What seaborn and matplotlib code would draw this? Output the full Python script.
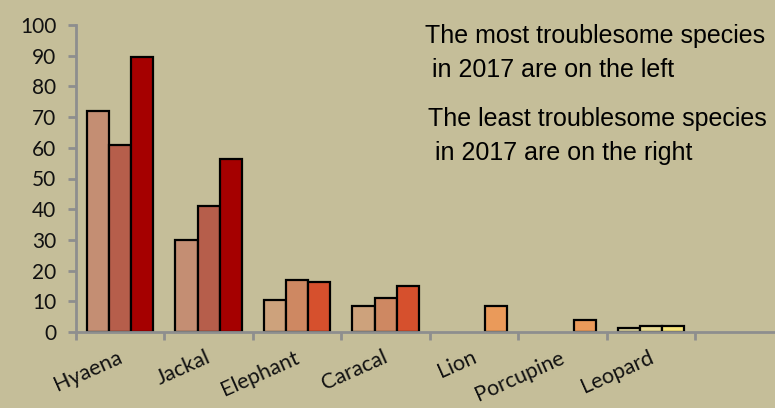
import numpy as np
import pandas as pd
import seaborn as sns
import matplotlib.pyplot as plt
import matplotlib.transforms as mtransforms

species = ['Hyaena', 'Jackal', 'Elephant', 'Caracal', 'Lion', 'Porcupine', 'Leopard']
years = ['2015', '2016', '2017']
count_2015 = [72, 30, 10.4, 8.5, 0, 0, 1.2]
count_2016 = [61, 41, 16.9, 11.2, 0, 0, 2]
count_2017 = [89.6, 56.4, 16.2, 15, 8.5, 3.8, 2]

# colours vary by species group (one row per species, one column per year)
bar_colors = [
    ['#C48E73', '#B65E4B', '#A50000'],
    ['#C48E73', '#B65E4B', '#A50000'],
    ['#CDA27C', '#CE8862', '#D6502D'],
    ['#CDA27C', '#CE8862', '#D6502D'],
    ['#E3B07A', '#E6A06A', '#EA9A5A'],
    ['#E3B07A', '#E6A06A', '#EA9A5A'],
    ['#D9D09C', '#E8DA94', '#F8E57C'],
]

df = pd.DataFrame({
    'species': species * 3,
    'year': np.repeat(years, len(species)),
    'count': count_2015 + count_2016 + count_2017,
})

bg = '#C5BE99'
grey = '#8E8E8E'

fig, ax = plt.subplots(figsize=(7.75, 4.08), dpi=100)
fig.patch.set_facecolor(bg)
ax.set_facecolor(bg)
fig.subplots_adjust(left=0.098, right=1.0, bottom=0.186, top=0.939)

sns.barplot(data=df, x='species', y='count', hue='year', width=0.75,
            edgecolor='black', linewidth=1.6, legend=False, ax=ax)

for j, cont in enumerate(ax.containers):
    for i, bar in enumerate(cont):
        bar.set_facecolor(bar_colors[i][j])
        if bar.get_height() == 0:
            bar.set_linewidth(0)

ax.set_ylim(0, 100)
ax.set_xlim(-0.5, 7.4)
ax.set_yticks(range(0, 101, 10))
ax.set_xlabel('')
ax.set_ylabel('')

for s in ['top', 'right']:
    ax.spines[s].set_visible(False)
for s in ['left', 'bottom']:
    ax.spines[s].set_color(grey)
    ax.spines[s].set_linewidth(2)

ax.tick_params(axis='y', length=6, width=2, color=grey, labelsize=15, pad=8,
               labelcolor='#111111')
ax.set_xticks(range(len(species)))
ax.set_xticklabels(species, rotation=24, ha='right', rotation_mode='anchor')
ax.tick_params(axis='x', length=0, labelsize=15.5, pad=11, labelcolor='#111111')
ax.set_xticks(np.arange(-0.5, len(species), 1.0), minor=True)
ax.tick_params(axis='x', which='minor', length=6, width=2, color=grey)

shift = mtransforms.ScaledTranslation(-3 / 100, 0, fig.dpi_scale_trans)
for lab in ax.get_xticklabels():
    lab.set_transform(lab.get_transform() + shift)
for lab in ax.get_xticklabels() + ax.get_yticklabels():
    lab.set_family('Lato')

fig.text(0.548, 0.942, 'The most troublesome species\n in 2017 are on the left',
         fontsize=18, family='Liberation Sans', va='top', ha='left', linespacing=1.55)
fig.text(0.552, 0.738, 'The least troublesome species\n in 2017 are on the right',
         fontsize=18, family='Liberation Sans', va='top', ha='left', linespacing=1.55)

fig.savefig('out.png', dpi=100, facecolor=bg)
